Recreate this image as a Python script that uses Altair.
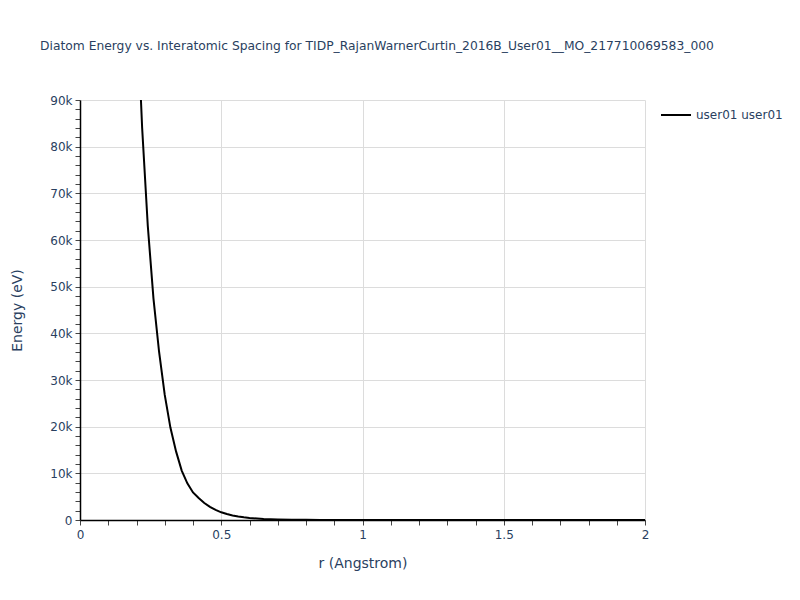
import altair as alt
import pandas as pd

r_values = [0.20, 0.22, 0.24, 0.26, 0.28, 0.30, 0.32, 0.34, 0.36, 0.38,
            0.40, 0.42, 0.44, 0.46, 0.48, 0.50, 0.52, 0.54, 0.56, 0.58,
            0.60, 0.65, 0.70, 0.75, 0.80, 0.85, 0.90, 1.00, 1.10, 1.20,
            1.30, 1.40, 1.50, 1.60, 1.70, 1.80, 1.90, 2.00]
energy_values = [112000, 84000, 63000, 47500, 36000, 26800, 19800, 14700, 10600, 7850,
                 5900, 4700, 3650, 2800, 2150, 1650, 1270, 980, 750, 580,
                 445, 230, 115, 58, 28, 12, 4, -1, -2, -2.5,
                 -2, -1.5, -1, -0.7, -0.5, -0.3, -0.2, -0.1]
series_name = "user01 user01"
title_text = "Diatom Energy vs. Interatomic Spacing for TIDP_RajanWarnerCurtin_2016B_User01__MO_217710069583_000"

df = pd.DataFrame({"r": r_values, "E": energy_values, "s": [series_name] * len(r_values)})

text_color = "#2a3f5f"
font = "DejaVu Sans"

x_ticks = [round(i * 0.1, 1) for i in range(21)]
y_ticks = [i * 2000 for i in range(46)]

chart = alt.Chart(df).mark_line(clip=True, strokeWidth=2).encode(
    x=alt.X("r:Q", scale=alt.Scale(domain=[0, 2], nice=False, zero=False),
            axis=alt.Axis(title="r (Angstrom)", values=x_ticks,
                          labelExpr="round(datum.value*10) % 5 === 0 ? format(datum.value, '~g') : ''",
                          gridOpacity={"condition": {"test": "round(datum.value*10) % 5 === 0", "value": 1}, "value": 0},
                          grid=True, gridColor="#dcdcdc", domainColor="black", domainWidth=1.5,
                          tickColor="#444", tickSize=5, labelPadding=4, labelColor=text_color,
                          labelFontSize=12, labelFont=font, titleFont=font, titleFontSize=14,
                          titleColor=text_color, titleFontWeight="normal", titlePadding=16,
                          labelFlush=False, labelOverlap=False)),
    y=alt.Y("E:Q", scale=alt.Scale(domain=[0, 90000], nice=False, zero=False),
            axis=alt.Axis(title="Energy (eV)", values=y_ticks,
                          labelExpr="datum.value % 10000 === 0 ? (datum.value === 0 ? '0' : (datum.value/1000) + 'k') : ''",
                          gridOpacity={"condition": {"test": "datum.value % 10000 === 0", "value": 1}, "value": 0},
                          grid=True, gridColor="#dcdcdc", domainColor="black", domainWidth=1.5,
                          tickColor="#444", tickSize=5, labelPadding=3, labelColor=text_color,
                          labelFontSize=12, labelFont=font, titleFont=font, titleFontSize=14,
                          titleColor=text_color, titleFontWeight="normal", titlePadding=25,
                          labelOverlap=False)),
    color=alt.Color("s:N", scale=alt.Scale(domain=[series_name], range=["black"]),
                    legend=alt.Legend(title=None, orient="none", legendX=580, legendY=-1,
                                      symbolType="stroke", symbolSize=900, symbolStrokeWidth=2,
                                      labelFont=font, labelFontSize=12, labelColor=text_color)),
).properties(
    width=565, height=420,
    title=alt.TitleParams(title_text, anchor="start", frame="group", align="left", dx=-40,
                          offset=42, font=font, fontSize=12.3, fontWeight="normal", color=text_color),
    autosize=alt.AutoSizeParams(type="none"),
    padding={"left": 72, "top": 92, "right": 147, "bottom": 64},
).configure_view(stroke=None)

chart.save("out.html", embed_options={"renderer": "svg", "actions": False})
